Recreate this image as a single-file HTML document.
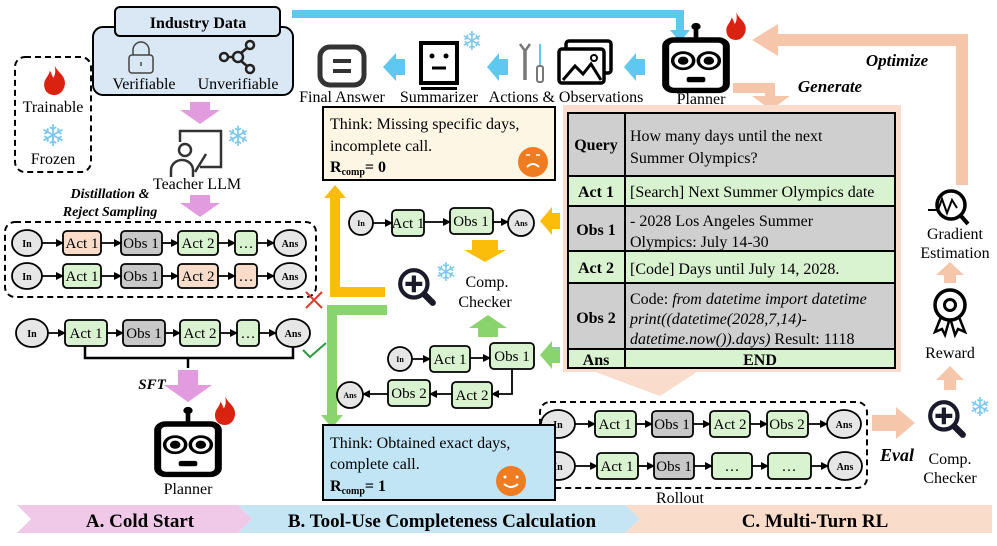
<!DOCTYPE html>
<html><head><meta charset="utf-8"><style>
html,body{margin:0;padding:0;background:#fff}
svg{display:block;font-family:"Liberation Serif",serif}
</style></head><body>
<svg width="997" height="546" viewBox="0 0 997 546" xmlns="http://www.w3.org/2000/svg">
<defs>
<marker id="ah" markerWidth="8" markerHeight="8" refX="7" refY="4" orient="auto" markerUnits="userSpaceOnUse"><path d="M0,0 L8,4 L0,8 z" fill="#000"/></marker>
<symbol id="robot" viewBox="0 0 60 80" preserveAspectRatio="none">
<circle cx="30" cy="5" r="4" fill="#000"/><rect x="28" y="7" width="4" height="12" fill="#000"/>
<rect x="4" y="20" width="52" height="56" rx="7" fill="#fff" stroke="#000" stroke-width="6"/>
<circle cx="19" cy="43" r="9" fill="#fff" stroke="#000" stroke-width="3"/><circle cx="19" cy="43" r="4.5" fill="#000"/>
<circle cx="41" cy="43" r="9" fill="#fff" stroke="#000" stroke-width="3"/><circle cx="41" cy="43" r="4.5" fill="#000"/>
<rect x="22" y="61" width="16" height="6" rx="2" fill="#000"/>
</symbol>
<symbol id="flame" viewBox="0 0 20 26"><path d="M10,0 C12,6 20,9 19,17 C18,23 14,26 10,26 C5,26 1,23 1,17 C1,12 5,10 6,5 C8,8 8,10 9,11 C11,8 11,4 10,0 z" fill="#d92310"/></symbol>
<symbol id="mag" viewBox="0 0 40 40"><circle cx="17" cy="17" r="13" fill="#fff" stroke="#1a1a2a" stroke-width="4"/><path d="M17,9 V25 M9,17 H25" stroke="#1a1a2a" stroke-width="4"/><path d="M27,27 L35,35" stroke="#1a1a2a" stroke-width="6" stroke-linecap="round"/></symbol>
</defs>

<!-- Bottom banner -->
<polygon points="17,505 238,505 252,519 238,533 17,533 31,519" fill="#f0c9e8"/>
<polygon points="238,505 625,505 640,519 625,533 238,533 252,519" fill="#c5e5f4"/>
<polygon points="625,505 992,505 992,533 625,533 640,519" fill="#fadccb"/>
<g font-weight="bold" font-size="19" text-anchor="middle">
<text x="140" y="527">A. Cold Start</text>
<text x="442" y="527">B. Tool-Use Completeness Calculation</text>
<text x="815" y="527">C. Multi-Turn RL</text>
</g>

<!-- Industry data -->
<rect x="93" y="27" width="200" height="68" rx="10" fill="#dae8f5" stroke="#000" stroke-width="2"/>
<rect x="115" y="7" width="165" height="29" rx="5" fill="#dae8f5" stroke="#000" stroke-width="2"/>
<text x="198" y="28" font-weight="bold" font-size="16" text-anchor="middle">Industry Data</text>
<rect x="129" y="55" width="24" height="18" rx="3" fill="none" stroke="#444" stroke-width="1.5"/>
<path d="M133,55 V50 a8,8 0 0 1 16,0 V55" fill="none" stroke="#444" stroke-width="1.5"/>
<line x1="141" y1="62" x2="141" y2="66" stroke="#444" stroke-width="1.5"/>
<g stroke="#222" stroke-width="2.5" fill="none"><circle cx="224" cy="57" r="4"/><circle cx="238" cy="57" r="5"/><circle cx="250" cy="45" r="4"/><circle cx="250" cy="69" r="4"/><path d="M228,57 H233 M241,53 L247,48 M241,61 L247,66"/></g>
<text x="144" y="89" font-size="16" text-anchor="middle">Verifiable</text>
<text x="238" y="89" font-size="16" text-anchor="middle">Unverifiable</text>

<!-- Legend -->
<rect x="15" y="57" width="76" height="115" rx="10" fill="none" stroke="#000" stroke-width="2" stroke-dasharray="6,4"/>
<use href="#flame" x="42" y="65" width="25" height="30"/>
<text x="53" y="112" font-size="16" text-anchor="middle">Trainable</text>
<text x="53" y="146" font-size="30" text-anchor="middle" fill="#7cc8ef" font-family="DejaVu Sans">❄</text>
<text x="53" y="164" font-size="16" text-anchor="middle">Frozen</text>

<!-- pink arrows -->
<polygon points="190,102 210,102 210,110 220,110 200,124 180,110 190,110" fill="#e39be0"/>
<polygon points="190,195 210,195 210,203 220,203 200,217 180,203 190,203" fill="#e39be0"/>
<!-- teacher icon -->
<g stroke="#333" stroke-width="2.5" fill="none"><path d="M180,142 V131 H221 V167 H200"/><circle cx="185" cy="150" r="6"/><path d="M171,177 V170 a11,10 0 0 1 22,0 V177"/><path d="M195,172 L206,154"/></g>
<text x="238" y="146" font-size="28" text-anchor="middle" fill="#7cc8ef" font-family="DejaVu Sans">❄</text>
<text x="197" y="189" font-size="16" text-anchor="middle">Teacher LLM</text>
<text x="110" y="198" font-size="14" font-weight="bold" font-style="italic" text-anchor="middle">Distillation &amp;</text>
<text x="110" y="216" font-size="14" font-weight="bold" font-style="italic" text-anchor="middle">Reject Sampling</text>

<!-- dashed box chains -->
<rect x="5" y="222" width="311" height="75" rx="10" fill="none" stroke="#000" stroke-width="2" stroke-dasharray="6,4"/>
<g stroke="#000" stroke-width="1.8" font-size="14" text-anchor="middle">
<ellipse cx="27" cy="243" rx="15" ry="13" fill="#e6e6e6"/>
<rect x="63" y="231" width="38" height="24" rx="4" fill="#fadccb"/>
<rect x="121" y="231" width="41" height="24" rx="4" fill="#c8c8c8"/>
<rect x="178" y="231" width="40" height="24" rx="4" fill="#d9f2d0"/>
<rect x="235" y="231" width="22" height="24" rx="4" fill="#d9f2d0"/>
<ellipse cx="290" cy="243" rx="16" ry="13" fill="#e6e6e6"/>
<ellipse cx="27" cy="276" rx="15" ry="13" fill="#e6e6e6"/>
<rect x="63" y="264" width="38" height="24" rx="4" fill="#d9f2d0"/>
<rect x="121" y="264" width="41" height="24" rx="4" fill="#c8c8c8"/>
<rect x="178" y="264" width="40" height="24" rx="4" fill="#fadccb"/>
<rect x="235" y="264" width="22" height="24" rx="4" fill="#fadccb"/>
<ellipse cx="290" cy="276" rx="16" ry="13" fill="#e6e6e6"/>
<ellipse cx="32" cy="333" rx="16" ry="14" fill="#e6e6e6"/>
<rect x="65" y="320" width="42" height="26" rx="4" fill="#d9f2d0"/>
<rect x="123" y="320" width="42" height="26" rx="4" fill="#c8c8c8"/>
<rect x="180" y="320" width="40" height="26" rx="4" fill="#d9f2d0"/>
<rect x="237" y="320" width="22" height="26" rx="4" fill="#d9f2d0"/>
<ellipse cx="293" cy="333" rx="17" ry="14" fill="#e6e6e6"/>
<g marker-end="url(#ah)" fill="none">
<line x1="42" y1="243" x2="63" y2="243"/><line x1="101" y1="243" x2="121" y2="243"/><line x1="162" y1="243" x2="178" y2="243"/><line x1="218" y1="243" x2="235" y2="243"/><line x1="257" y1="243" x2="274" y2="243"/>
<line x1="42" y1="276" x2="63" y2="276"/><line x1="101" y1="276" x2="121" y2="276"/><line x1="162" y1="276" x2="178" y2="276"/><line x1="218" y1="276" x2="235" y2="276"/><line x1="257" y1="276" x2="274" y2="276"/>
<line x1="48" y1="333" x2="65" y2="333"/><line x1="107" y1="333" x2="123" y2="333"/><line x1="165" y1="333" x2="180" y2="333"/><line x1="220" y1="333" x2="237" y2="333"/><line x1="259" y1="333" x2="276" y2="333"/>
</g>
<path d="M85,346 V358 H293 V347 M188,358 V368" fill="none" stroke-width="2.5"/>
</g>
<g font-size="15" text-anchor="middle">
<text x="27" y="247" font-size="10" font-weight="bold">In</text><text x="82" y="248">Act 1</text><text x="141" y="248">Obs 1</text><text x="198" y="248">Act 2</text><text x="246" y="248">…</text><text x="290" y="247" font-size="10" font-weight="bold">Ans</text>
<text x="27" y="280" font-size="10" font-weight="bold">In</text><text x="82" y="281">Act 1</text><text x="141" y="281">Obs 1</text><text x="198" y="281">Act 2</text><text x="246" y="281">…</text><text x="290" y="280" font-size="10" font-weight="bold">Ans</text>
<text x="32" y="337" font-size="10" font-weight="bold">In</text><text x="86" y="338">Act 1</text><text x="144" y="338">Obs 1</text><text x="200" y="338">Act 2</text><text x="248" y="338">…</text><text x="293" y="337" font-size="10" font-weight="bold">Ans</text>
</g>
<path d="M306,292 L322,308 M322,292 L306,308" stroke="#e03a2a" stroke-width="2"/>
<path d="M303,350 L310,357 L326,343" stroke="#2a9a3a" stroke-width="2" fill="none"/>
<text x="152" y="389" font-size="15" font-weight="bold" font-style="italic" text-anchor="middle">SFT</text>
<polygon points="178,370 198,370 198,385 212,385 188,402 164,385 178,385" fill="#e39be0"/>
<use href="#robot" x="153" y="406" width="70" height="72"/>
<use href="#flame" x="213" y="396" width="24" height="29"/>
<text x="188" y="494" font-size="16" text-anchor="middle">Planner</text>

<!-- top blue line -->
<path d="M292,14 H680 V32" stroke="#5ec8f1" stroke-width="8" fill="none"/>
<polygon points="670,30 690,30 680,42" fill="#5ec8f1"/>
<!-- final answer icon -->
<rect x="320" y="47" width="44" height="38" rx="10" fill="none" stroke="#333" stroke-width="5"/>
<path d="M333,61 H351 M333,71 H351" stroke="#333" stroke-width="4"/>
<text x="342" y="102" font-size="16" text-anchor="middle">Final Answer</text>
<polygon points="405,59 396,59 396,53 383,67 396,81 396,75 405,75" fill="#5ec8f1"/>
<!-- summarizer -->
<rect x="421" y="43" width="36" height="40" fill="#fff" stroke="#000" stroke-width="4"/>
<rect x="421" y="87" width="36" height="3" fill="#000"/>
<circle cx="432" cy="56" r="2.5" fill="#000"/><circle cx="446" cy="56" r="2.5" fill="#000"/><path d="M432,68 H446" stroke="#000" stroke-width="3"/>
<text x="472" y="50" font-size="26" text-anchor="middle" fill="#7cc8ef" font-family="DejaVu Sans">❄</text>
<text x="439" y="102" font-size="16" text-anchor="middle">Summarizer</text>
<polygon points="508,59 499,59 499,53 487,67 499,81 499,75 508,75" fill="#5ec8f1"/>
<!-- tools -->
<path d="M525,50 v30" stroke="#777" stroke-width="3.5"/><path d="M520,44 l5,7 l5,-7" stroke="#777" stroke-width="2.5" fill="none"/>
<path d="M540,44 v22" stroke="#5ec8f1" stroke-width="2"/><rect x="537" y="66" width="6" height="16" rx="2" fill="none" stroke="#777" stroke-width="2"/>
<!-- image icon -->
<rect x="566" y="41" width="45" height="32" rx="3" fill="none" stroke="#000" stroke-width="3.5"/>
<rect x="559" y="49" width="45" height="34" rx="3" fill="#fff" stroke="#000" stroke-width="3.5"/>
<path d="M563,80 L575,66 L583,74 L591,64 L601,80" fill="none" stroke="#000" stroke-width="3"/><circle cx="594" cy="58" r="3" fill="none" stroke="#000" stroke-width="2"/>
<text x="566" y="102" font-size="16" text-anchor="middle">Actions &amp; Observations</text>
<polygon points="645,59 636,59 636,53 624,67 636,81 636,75 645,75" fill="#5ec8f1"/>
<use href="#robot" x="661" y="22" width="70" height="72"/>
<use href="#flame" x="725" y="12" width="22" height="28"/>
<text x="701" y="104" font-size="16" text-anchor="middle">Planner</text>

<!-- peach arrows -->
<path d="M733,88 H770 V98" stroke="#f6c6aa" stroke-width="10" fill="none"/>
<polygon points="752,96 790,96 771,110" fill="#f6c6aa"/>
<text x="830" y="92" font-size="17" font-weight="bold" font-style="italic" text-anchor="middle">Generate</text>
<path d="M962,185 V40 H775" stroke="#f6c6aa" stroke-width="12" fill="none"/>
<polygon points="778,24 778,56 752,40" fill="#f6c6aa"/>
<text x="897" y="66" font-size="17" font-weight="bold" font-style="italic" text-anchor="middle">Optimize</text>

<!-- table panel -->
<rect x="563" y="105" width="338" height="267" fill="#f9dccb"/>
<polygon points="590,370 700,370 660,396" fill="#f9dccb"/>
<g stroke="#000" stroke-width="2">
<rect x="568" y="113" width="327" height="63" fill="#cfcfcf"/>
<rect x="568" y="176" width="327" height="30" fill="#d9f2d0"/>
<rect x="568" y="206" width="327" height="45" fill="#cfcfcf"/>
<rect x="568" y="251" width="327" height="32" fill="#d9f2d0"/>
<rect x="568" y="283" width="327" height="66" fill="#cfcfcf"/>
<rect x="568" y="349" width="327" height="19" fill="#d9f2d0"/>
<line x1="625" y1="113" x2="625" y2="368"/>
</g>
<g font-size="16">
<g font-weight="bold" text-anchor="middle"><text x="596" y="150">Query</text><text x="596" y="197">Act 1</text><text x="596" y="235">Obs 1</text><text x="596" y="273">Act 2</text><text x="596" y="323">Obs 2</text><text x="596" y="365">Ans</text><text x="760" y="365">END</text></g>
<text x="630" y="141">How many days until the next</text>
<text x="630" y="163">Summer Olympics?</text>
<text x="630" y="197">[Search] Next Summer Olympics date</text>
<text x="630" y="226">- 2028 Los Angeles Summer</text>
<text x="630" y="247">Olympics: July 14-30</text>
<text x="630" y="274">[Code] Days until July 14, 2028.</text>
<text x="630" y="304">Code: <tspan font-style="italic">from datetime import datetime</tspan></text>
<text x="630" y="324" font-style="italic">print((datetime(2028,7,14)-</text>
<text x="630" y="344"><tspan font-style="italic">datetime.now()).days)</tspan> Result: 1118</text>
</g>

<!-- rollout -->
<rect x="540" y="402" width="327" height="86" rx="10" fill="none" stroke="#000" stroke-width="2" stroke-dasharray="6,4"/>
<g stroke="#000" stroke-width="1.8">
<ellipse cx="558" cy="424" rx="17" ry="14" fill="#e6e6e6"/>
<rect x="595" y="411" width="41" height="26" rx="4" fill="#d9f2d0"/>
<rect x="652" y="411" width="41" height="26" rx="4" fill="#c8c8c8"/>
<rect x="710" y="411" width="40" height="26" rx="4" fill="#d9f2d0"/>
<rect x="767" y="411" width="41" height="26" rx="4" fill="#d9f2d0"/>
<ellipse cx="844" cy="424" rx="17" ry="14" fill="#e6e6e6"/>
<ellipse cx="558" cy="466" rx="17" ry="14" fill="#e6e6e6"/>
<rect x="597" y="453" width="41" height="26" rx="4" fill="#d9f2d0"/>
<rect x="654" y="453" width="40" height="26" rx="4" fill="#c8c8c8"/>
<rect x="712" y="453" width="40" height="26" rx="4" fill="#d9f2d0"/>
<rect x="768" y="453" width="43" height="26" rx="4" fill="#d9f2d0"/>
<ellipse cx="845" cy="466" rx="17" ry="14" fill="#e6e6e6"/>
<g marker-end="url(#ah)" fill="none">
<line x1="575" y1="424" x2="595" y2="424"/><line x1="636" y1="424" x2="652" y2="424"/><line x1="693" y1="424" x2="710" y2="424"/><line x1="750" y1="424" x2="767" y2="424"/><line x1="808" y1="424" x2="827" y2="424"/>
<line x1="575" y1="466" x2="597" y2="466"/><line x1="638" y1="466" x2="654" y2="466"/><line x1="694" y1="466" x2="712" y2="466"/><line x1="752" y1="466" x2="768" y2="466"/><line x1="811" y1="466" x2="828" y2="466"/>
</g>
</g>
<g font-size="15" text-anchor="middle">
<text x="558" y="428" font-size="10" font-weight="bold">In</text><text x="615" y="429">Act 1</text><text x="672" y="429">Obs 1</text><text x="730" y="429">Act 2</text><text x="787" y="429">Obs 2</text><text x="844" y="428" font-size="10" font-weight="bold">Ans</text>
<text x="558" y="470" font-size="10" font-weight="bold">In</text><text x="617" y="471">Act 1</text><text x="674" y="471">Obs 1</text><text x="732" y="471">…</text><text x="789" y="471">…</text><text x="845" y="470" font-size="10" font-weight="bold">Ans</text>
<text x="680" y="503" font-size="16">Rollout</text>
</g>

<!-- RL right column -->
<polygon points="872,415 896,415 896,407 915,423 896,439 896,431 872,431" fill="#f6c6aa"/>
<text x="897" y="461" font-size="18" font-weight="bold" font-style="italic" text-anchor="middle">Eval</text>
<use href="#mag" x="926" y="398" width="42" height="42"/>
<text x="980" y="416" font-size="26" text-anchor="middle" fill="#7cc8ef" font-family="DejaVu Sans">❄</text>
<text x="950" y="464" font-size="16" text-anchor="middle">Comp.</text>
<text x="950" y="483" font-size="16" text-anchor="middle">Checker</text>
<polygon points="944,390 956,390 956,380 964,380 950,366 936,380 944,380" fill="#f6c6aa"/>
<circle cx="950" cy="305" r="15" fill="none" stroke="#000" stroke-width="3.5"/><circle cx="950" cy="305" r="5.5" fill="none" stroke="#000" stroke-width="3"/>
<path d="M941,317 L935,332 L942,329 L945,335 L949,321 M959,317 L965,332 L958,329 L955,335 L951,321" fill="none" stroke="#000" stroke-width="2.5"/>
<text x="950" y="358" font-size="16" text-anchor="middle">Reward</text>
<polygon points="944,283 956,283 956,275 964,275 950,262 936,275 944,275" fill="#f6c6aa"/>
<circle cx="951" cy="205" r="14" fill="#fff" stroke="#000" stroke-width="3.5"/>
<path d="M961,216 L968,224" stroke="#000" stroke-width="4"/>
<path d="M928,210 H938 L942,199 L947,213 L952,200 L957,208" fill="none" stroke="#000" stroke-width="2"/>
<text x="955" y="239" font-size="16" text-anchor="middle">Gradient</text>
<text x="955" y="258" font-size="16" text-anchor="middle">Estimation</text>

<!-- Middle section -->
<rect x="323" y="107" width="232" height="73" fill="#fdf6e4" stroke="#000" stroke-width="2"/>
<text x="330" y="129" font-size="16">Think: Missing specific days,</text>
<text x="330" y="151" font-size="16">incomplete call.</text>
<text x="330" y="172" font-size="16" font-weight="bold">R<tspan font-size="10" dy="3">comp</tspan><tspan dy="-3">= 0</tspan></text>
<circle cx="533" cy="162" r="15" fill="#f07c22"/><path d="M526,155 h4 M536,155 h4" stroke="#fff" stroke-width="1.5"/><path d="M527,167 q6,-6 12,0" stroke="#fff" stroke-width="2" fill="none"/>

<path d="M385,292 H335 V194" stroke="#fbbd0a" stroke-width="10" fill="none"/>
<polygon points="324,198 346,198 335,185" fill="#fbbd0a"/>
<polygon points="472,240 498,240 498,250 506,250 485,262 464,250 472,250" fill="#fbbd0a"/>
<polygon points="560,213 552,213 552,207 540,221 552,235 552,229 560,229" fill="#fbbd0a"/>

<path d="M387,310 H332 V420" stroke="#8ad46e" stroke-width="10" fill="none"/>
<polygon points="321,415 343,415 332,428" fill="#8ad46e"/>
<polygon points="478,337 498,337 498,328 507,328 488,315 469,328 478,328" fill="#8ad46e"/>
<polygon points="560,347 552,347 552,341 540,355 552,369 552,363 560,363" fill="#8ad46e"/>

<use href="#mag" x="396" y="266" width="42" height="42"/>
<text x="446" y="281" font-size="26" text-anchor="middle" fill="#7cc8ef" font-family="DejaVu Sans">❄</text>
<text x="487" y="287" font-size="16" text-anchor="middle">Comp.</text>
<text x="485" y="307" font-size="16" text-anchor="middle">Checker</text>

<g stroke="#000" stroke-width="1.8">
<circle cx="361" cy="223" r="12" fill="#e6e6e6"/>
<rect x="392" y="210" width="32" height="26" rx="4" fill="#d9f2d0"/>
<rect x="450" y="208" width="43" height="26" rx="4" fill="#d9f2d0"/>
<circle cx="521" cy="223" r="13" fill="#e6e6e6"/>
<circle cx="400" cy="359" r="12" fill="#e6e6e6"/>
<rect x="430" y="346" width="40" height="26" rx="4" fill="#d9f2d0"/>
<rect x="490" y="343" width="44" height="26" rx="4" fill="#d9f2d0"/>
<rect x="452" y="382" width="40" height="26" rx="4" fill="#d9f2d0"/>
<rect x="388" y="380" width="42" height="26" rx="4" fill="#d9f2d0"/>
<circle cx="350" cy="395" r="13" fill="#e6e6e6"/>
<g marker-end="url(#ah)" fill="none">
<line x1="373" y1="223" x2="392" y2="223"/><line x1="424" y1="222" x2="450" y2="222"/><line x1="493" y1="222" x2="508" y2="222"/>
<line x1="412" y1="359" x2="430" y2="359"/><line x1="470" y1="358" x2="490" y2="358"/>
<path d="M512,369 V394 H492"/><line x1="452" y1="394" x2="430" y2="394"/><line x1="388" y1="394" x2="363" y2="394"/>
</g>
</g>
<g font-size="15" text-anchor="middle">
<text x="361" y="226" font-size="8" font-weight="bold">In</text><text x="408" y="228">Act 1</text><text x="471" y="226">Obs 1</text><text x="521" y="226" font-size="8" font-weight="bold">Ans</text>
<text x="400" y="362" font-size="8" font-weight="bold">In</text><text x="450" y="364">Act 1</text><text x="512" y="361">Obs 1</text><text x="472" y="400">Act 2</text><text x="409" y="398">Obs 2</text><text x="350" y="398" font-size="8" font-weight="bold">Ans</text>
</g>

<rect x="323" y="425" width="232" height="75" fill="#c2e5f6" stroke="#000" stroke-width="2"/>
<text x="330" y="448" font-size="16">Think: Obtained exact days,</text>
<text x="330" y="469" font-size="16">complete call.</text>
<text x="330" y="491" font-size="16" font-weight="bold">R<tspan font-size="10" dy="3">comp</tspan><tspan dy="-3">= 1</tspan></text>
<circle cx="511" cy="481" r="15" fill="#f07c22"/><circle cx="505" cy="477" r="1.5" fill="#fff"/><circle cx="517" cy="477" r="1.5" fill="#fff"/><path d="M504,484 q7,6 14,0" stroke="#fff" stroke-width="2" fill="none"/>
</svg>
</body></html>
